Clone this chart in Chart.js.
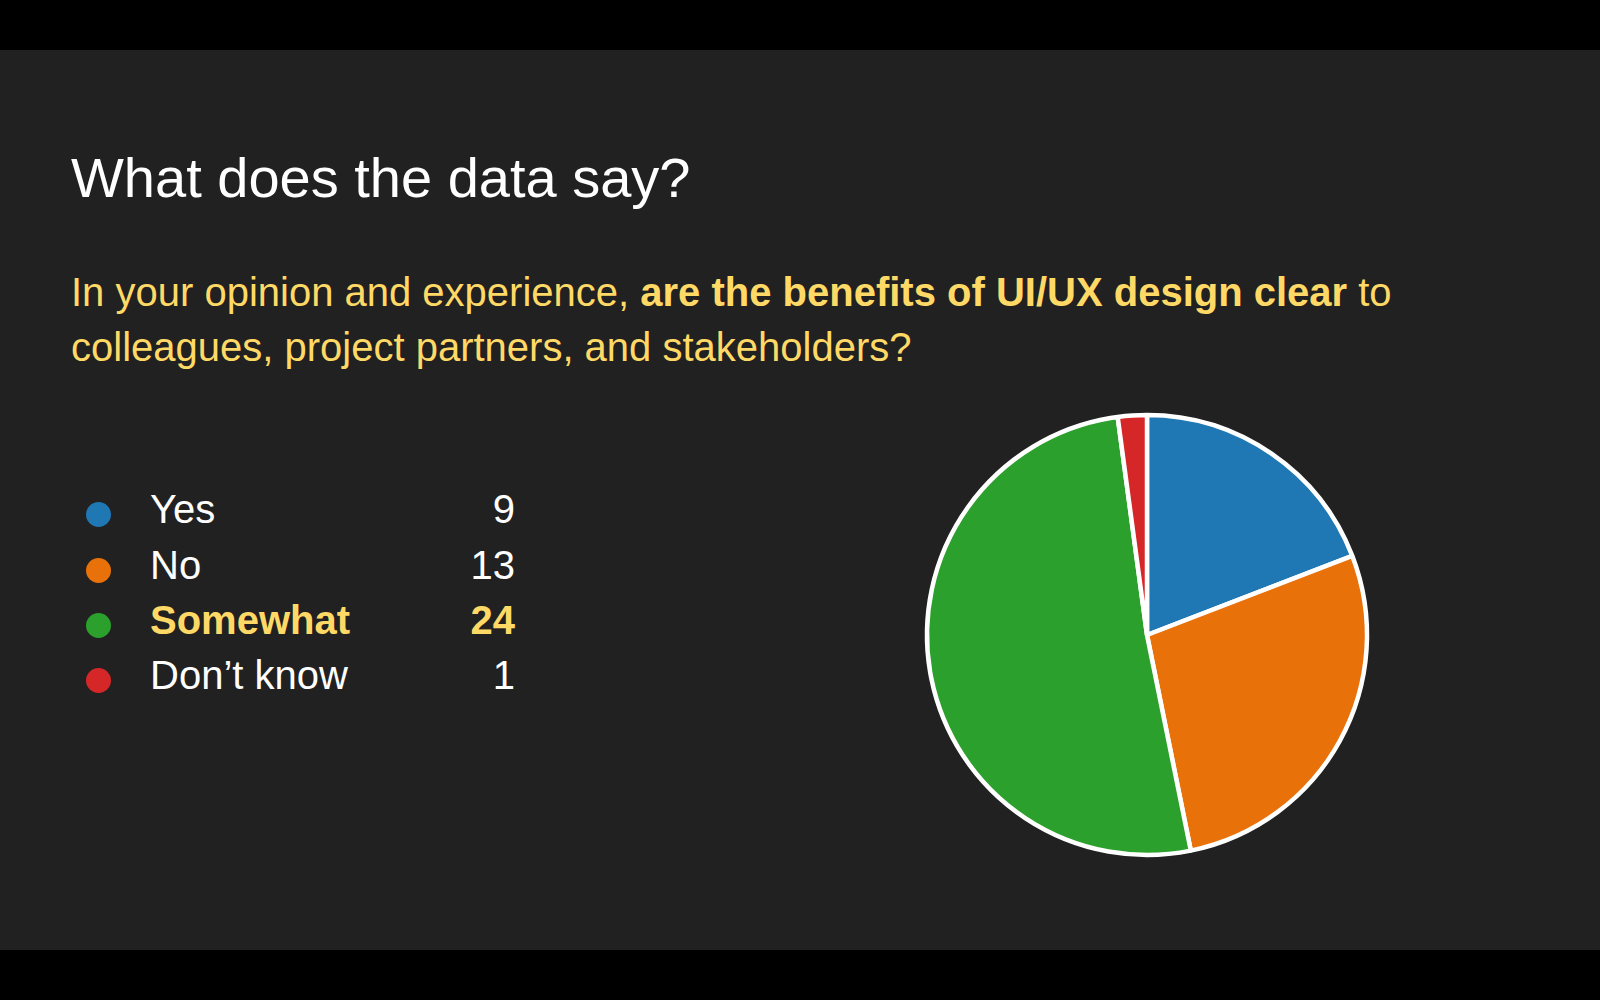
<!DOCTYPE html>
<html>
<head>
<meta charset="utf-8">
<script src="https://cdn.jsdelivr.net/npm/chart.js@4"></script>
<style>
  html, body { margin:0; padding:0; background:#000; }
  body { width:1600px; height:1000px; position:relative; overflow:hidden; font-family:"Liberation Sans", Arial, sans-serif; }
  #slide { position:absolute; left:0; top:50px; width:1600px; height:900px; background:#212121; }
  #title { position:absolute; left:71px; top:100.1px; font-size:56px; line-height:55px; color:#ffffff; white-space:nowrap; }
  #subtitle { position:absolute; left:71px; top:214.6px; font-size:40px; line-height:55px; color:#ffd966; white-space:nowrap; }
  #subtitle b { font-weight:bold; }
  #legend { position:absolute; left:0; top:432.4px; width:600px; }
  .row { position:relative; height:55.33px; font-size:40px; line-height:55.33px; color:#ffffff; }
  .row .dot { position:absolute; left:86px; top:20px; width:25px; height:25px; border-radius:50%; }
  .row .lab { position:absolute; left:150px; top:0; white-space:nowrap; }
  .row .val { position:absolute; right:85px; top:0; text-align:right; }
  .row.hl { color:#ffd966; font-weight:bold; }
  #pieBox { position:absolute; left:897px; top:335px; width:500px; height:500px; }
</style>
</head>
<body>
<div id="slide">
  <div id="title">What does the data say?</div>
  <div id="subtitle">In your opinion and experience, <b>are the benefits of UI/UX design clear</b> to<br>colleagues, project partners, and stakeholders?</div>
  <div id="legend"></div>
  <div id="pieBox"><canvas id="pie" width="500" height="500"></canvas></div>
</div>
<script>
const categories = ["Yes", "No", "Somewhat", "Don\u2019t know"];
const responses = [9, 13, 24, 1];
const sliceColors = ["#1f77b4", "#e8710a", "#2ca02c", "#d62728"];
const highlighted = ["Somewhat"];

// legend (HTML text built from arrays)
const legend = document.getElementById("legend");
categories.forEach((c, i) => {
  const row = document.createElement("div");
  row.className = "row" + (highlighted.includes(c) ? " hl" : "");
  const dot = document.createElement("span");
  dot.className = "dot";
  dot.style.background = sliceColors[i];
  const lab = document.createElement("span");
  lab.className = "lab";
  lab.textContent = c;
  const val = document.createElement("span");
  val.className = "val";
  val.textContent = String(responses[i]);
  row.appendChild(dot); row.appendChild(lab); row.appendChild(val);
  legend.appendChild(row);
});

new Chart(document.getElementById("pie"), {
  type: "pie",
  data: {
    labels: categories,
    datasets: [{
      data: responses,
      backgroundColor: sliceColors,
      borderColor: "#ffffff",
      borderWidth: 4.5,
      hoverOffset: 0
    }]
  },
  options: {
    responsive: false,
    animation: false,
    radius: 220,
    layout: { padding: 0 },
    plugins: {
      legend: { display: false },
      tooltip: { enabled: false }
    },
    events: []
  }
});
</script>
</body>
</html>
